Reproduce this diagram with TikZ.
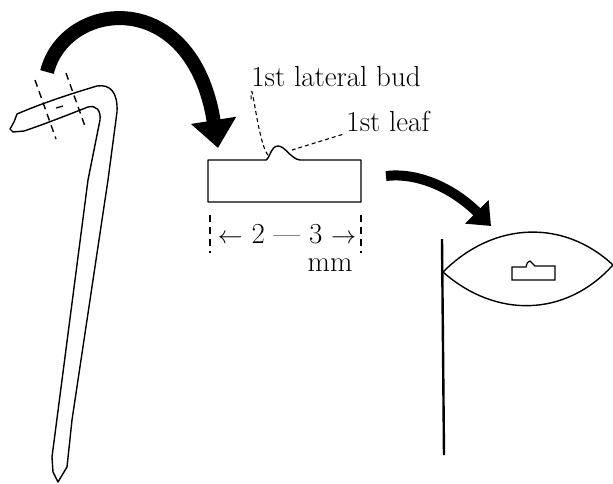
\documentclass[tikz,border=0pt]{standalone}
\usetikzlibrary{arrows.meta}
\tikzset{
  outline/.style={line width=1.4pt, line join=round},
  leader/.style={dash pattern=on 4pt off 3pt, line width=1.1pt},
  cutline/.style={dash pattern=on 7pt off 5pt, line width=1.4pt},
  bigarrow/.style={line width=14pt, -{Triangle[width=44pt,length=28pt]}},
  smallarrow/.style={line width=10pt, -{Triangle[width=32pt,length=20pt]}},
  tag/.style={inner sep=0pt, font=\fontsize{29}{32}\selectfont}
}
\begin{document}
\begin{tikzpicture}[x=1pt,y=-1pt]
\useasboundingbox (0,0) rectangle (613,483);

% cutting from the shoot
\draw[outline] (58,482) -- (67,467) -- (72,420) -- (108,180) -- (117,112)
  .. controls (118,92) and (110,84) .. (97,86)
  .. controls (70,94) and (40,104) .. (17,114) -- (14,122) -- (10,129) -- (13,132) -- (24,131)
  .. controls (45,124) and (70,114) .. (88,107)
  .. controls (96,105) and (101,110) .. (100,120) -- (88,180) -- (52,457) -- (53,472) -- cycle;
\draw[cutline] (35,80) -- (56,139);
\draw[cutline] (66,73) -- (86,129);
\draw[line width=1.3pt] (56,108) -- (63,106);
\coordinate (cut) at (47,72);

% excised node piece
\draw[outline] (208,160) -- (266,160)
  .. controls (270,158) and (271,146) .. (278,146)
  .. controls (285,146) and (291,159) .. (300,160) -- (361,160) -- (361,202) -- (208,202) -- cycle;
\coordinate (piece) at (218,148);
\coordinate (bud) at (270,157);
\coordinate (leaf) at (292,150);
\coordinate (piece out) at (386,176);

% labels
\node[tag] (budlabel) at (336,77) {1st lateral bud};
\node[tag] (leaflabel) at (388,121) {1st leaf};
\draw[leader] ([xshift=0pt,yshift=-12pt]budlabel.south west) .. controls +(0,-34) and +(-12,-6) .. (bud);
\draw[leader] ([xshift=-4pt,yshift=-3pt]leaflabel.south west) -- (leaf);

% length of the piece
\draw[cutline] (210,215) -- (210,253);
\draw[cutline] (361,215) -- (361,253);
\node[tag, text depth=0pt] (length) at (287,234) {$\leftarrow$ 2 --- 3 $\rightarrow$};
\node[tag, anchor=base] (unit) at (330,271) {mm};

% plated on the medium
\draw[line width=2.4pt] (442,239) -- (444,455);
\draw[outline] (443,272) .. controls (495,220) and (565,220) .. (613,265)
  .. controls (565,318) and (495,318) .. (443,272) -- cycle;
\draw[line width=1.2pt] (512,267) -- (526,267) .. controls (527,263) and (528,261) .. (530,261)
  -- (535,266) -- (555,266) -- (555,280) -- (512,280) -- cycle;
\coordinate (plate) at (491,226);

% transfer arrows
\draw[bigarrow] (cut) .. controls (65,0) and (192,-15) .. (piece);
\draw[smallarrow] (piece out) .. controls (420,172) and (455,190) .. (plate);
\end{tikzpicture}
\end{document}
